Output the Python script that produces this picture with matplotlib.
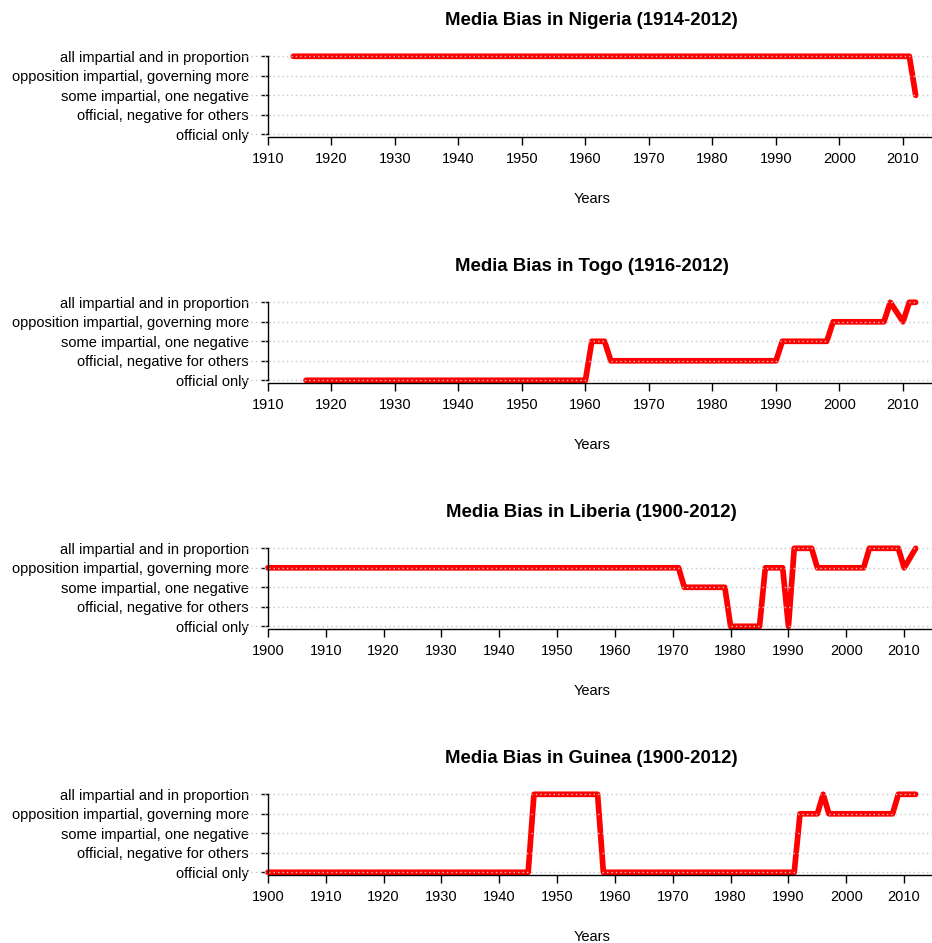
import matplotlib.pyplot as plt

plt.rcParams['font.family'] = ['Liberation Sans', 'DejaVu Sans']

bias_labels = ['official only', 'official, negative for others', 'some impartial, one negative',
               'opposition impartial, governing more', 'all impartial and in proportion']

# years where the level changes, and the level at that year (0 = official only)
nigeria_years = [1914, 2011, 2012]
nigeria_bias = [4, 4, 2]

togo_years = [1916, 1960, 1961, 1963, 1964, 1990, 1991, 1998, 1999, 2007, 2008, 2010, 2011, 2012]
togo_bias = [0, 0, 2, 2, 1, 1, 2, 2, 3, 3, 4, 3, 4, 4]

liberia_years = [1900, 1971, 1972, 1979, 1980, 1985, 1986, 1989, 1990, 1991, 1994, 1995,
                 2003, 2004, 2009, 2010, 2012]
liberia_bias = [3, 3, 2, 2, 0, 0, 3, 3, 0, 4, 4, 3, 3, 4, 4, 3, 4]

guinea_years = [1900, 1945, 1946, 1957, 1958, 1991, 1992, 1995, 1996, 1997, 2008, 2009, 2012]
guinea_bias = [0, 0, 4, 4, 0, 0, 3, 3, 4, 3, 3, 4, 4]

titles = ['Media Bias in Nigeria (1914-2012)', 'Media Bias in Togo (1916-2012)',
          'Media Bias in Liberia (1900-2012)', 'Media Bias in Guinea (1900-2012)']
axis_start = [1910, 1910, 1900, 1900]
axis_end = 2012

W, H = 932, 943


def plot_bias(ax, years, bias, title, start):
    span = axis_end - start
    pad = 0.04 * span
    ax.set_xlim(start - pad, axis_end + pad)
    ax.set_ylim(-0.16, 4.16)

    ax.plot(years, bias, color='red', lw=4.1, solid_joinstyle='round',
            solid_capstyle='round', zorder=2)
    # R style dotted grid drawn over the line
    for lvl in range(len(bias_labels)):
        ax.axhline(lvl, color='#C8C8C8', lw=1.0, ls=(0, (1, 2.2)), zorder=3)

    ax.set_yticks(range(len(bias_labels)))
    ax.set_yticklabels(bias_labels)
    ax.set_xticks(range(start, 2011, 10))

    for s in ['top', 'right']:
        ax.spines[s].set_visible(False)
    ax.spines['left'].set_position(('data', start))
    ax.spines['left'].set_bounds(0, 4)
    ax.spines['bottom'].set_bounds(start, axis_end + pad)
    for s in ['left', 'bottom']:
        ax.spines[s].set_linewidth(1.0)
        ax.spines[s].set_zorder(4)

    ax.tick_params(axis='y', length=5.4, width=1.0, pad=8.3, labelsize=10.5)
    ax.tick_params(axis='x', length=5.8, width=1.0, pad=5.0, labelsize=10.5)

    ax.set_title(title, fontsize=13.4, fontweight='bold', pad=20)
    ax.annotate('Years', xy=(0.5, 0), xycoords='axes fraction', xytext=(0, -44.4),
                textcoords='offset points', ha='center', va='center', fontsize=10.5)


fig = plt.figure(figsize=(W / 100, H / 100), dpi=100)

all_years = [nigeria_years, togo_years, liberia_years, guinea_years]
all_bias = [nigeria_bias, togo_bias, liberia_bias, guinea_bias]

for i in range(4):
    level4 = 56.3 + 246 * i
    top = level4 - 0.16 * 19.5
    height = 4.32 * 19.5
    ax = fig.add_axes([242 / W, 1 - (top + height) / H, 699.6 / W, height / H])
    plot_bias(ax, all_years[i], all_bias[i], titles[i], axis_start[i])

fig.savefig('out.png', dpi=100)
